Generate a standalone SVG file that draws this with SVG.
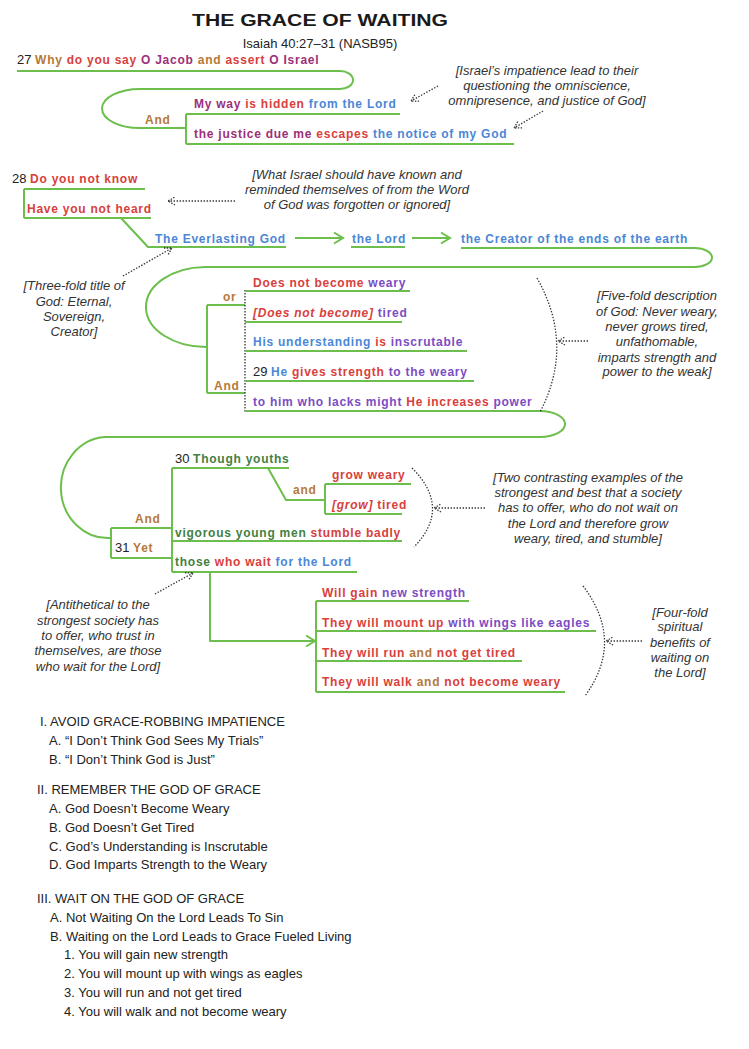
<svg xmlns="http://www.w3.org/2000/svg" width="749" height="1049" viewBox="0 0 749 1049">
<defs>
<style>
.b{font-family:'Liberation Sans',Arial,sans-serif;font-weight:bold;font-size:12px;letter-spacing:0.75px}
.n{font-weight:normal;fill:#222;font-size:13px;letter-spacing:0}
.a{font-family:'Liberation Sans',Arial,sans-serif;font-style:italic;font-size:13px;fill:#333;text-anchor:middle}
.o{font-family:'Liberation Sans',Arial,sans-serif;font-size:13px;fill:#222}
.br{fill:#b5793a}.rd{fill:#d8403c}.pl{fill:#9c2f78}.bl{fill:#4b87d6}.vi{fill:#7b4cc4}.dg{fill:#437f43}
.it{font-style:italic}
.g{fill:none;stroke:#6cbf4c;stroke-width:2;stroke-linejoin:round}
.d{fill:none;stroke:#333;stroke-width:1.3;stroke-dasharray:1.4 1.6}
</style>
<marker id="da" markerUnits="userSpaceOnUse" markerWidth="12" markerHeight="12" viewBox="-10 -6 12 12" refX="0" refY="0" orient="auto">
<path d="M-7,-4 L0,0 L-7,4" fill="none" stroke="#333" stroke-width="1.3" stroke-dasharray="1.4 1.4"/>
</marker>
<marker id="ga" markerUnits="userSpaceOnUse" markerWidth="14" markerHeight="14" viewBox="-12 -7 14 14" refX="0" refY="0" orient="auto">
<path d="M-9,-5.5 L0,0 L-9,5.5" fill="none" stroke="#6cbf4c" stroke-width="2"/>
</marker>
</defs>
<rect width="749" height="1049" fill="#fff"/>

<g id="title">
<text x="320" y="26" text-anchor="middle" font-family="'Liberation Sans',Arial,sans-serif" font-weight="bold" font-size="16" fill="#1a1a1a" textLength="256" lengthAdjust="spacingAndGlyphs">THE GRACE OF WAITING</text>
<text x="320" y="48" text-anchor="middle" class="o">Isaiah 40:27–31 (NASB95)</text>
</g>

<g id="connectors">
<path class="g" d="M17,71 H340 A13,9 0 0 1 340,89 H140 A38,19.5 0 0 0 140,128 H186"/>
<path class="g" d="M186,114 V144 M186,114 H400 M186,144 H514"/>
<path class="g" d="M24,189 V218 M24,189 H145 M24,218 H151 M121,218 L148,247 H286"/>
<path class="g" d="M295,238 H343" marker-end="url(#ga)"/>
<path class="g" d="M351,247 H405"/>
<path class="g" d="M412,238 H450" marker-end="url(#ga)"/>
<path class="g" d="M461,248 H695 A17,9.5 0 0 1 695,267 H205 A60,40 0 0 0 207,347"/>
<path class="g" d="M207,305 V393 M207,305 H245 M207,393 H245"/>
<path class="d" d="M245,290 V412"/>
<path class="g" d="M245,291 H410 M245,322 H402 M245,351 H467 M245,381 H474 M245,411 H540 A25,13 0 0 1 540,437 H105 A47,50.5 0 0 0 111,538"/>
<path class="g" d="M111,528 V558 M111,528 H172 M111,558 H172"/>
<path class="g" d="M172,468 V572 M172,468 H289 M172,541 H402 M172,572 H357"/>
<path class="g" d="M268,468 L286,500 H325 M325,484 V514 M325,484 H411 M325,514 H402"/>
<path class="g" d="M210,572 V641 H315" marker-end="url(#ga)"/>
<path class="g" d="M316,601 V692 M316,601 H469 M316,631 H596 M316,661 H522 M316,692 H565"/>
<path class="d" d="M537,278 Q575,345 540,412"/>
<path class="d" d="M412,468 Q452,508 414,547"/>
<path class="d" d="M583,586 Q625,641 585,696"/>
<path class="d" d="M438,86 L411,101" marker-end="url(#da)"/>
<path class="d" d="M543,111 L514,128" marker-end="url(#da)"/>
<path class="d" d="M235,201 L168,201" marker-end="url(#da)"/>
<path class="d" d="M123,276 L172,248" marker-end="url(#da)"/>
<path class="d" d="M588,341 L558,341" marker-end="url(#da)"/>
<path class="d" d="M485,508 L434,508" marker-end="url(#da)"/>
<path class="d" d="M642,641 L606,641" marker-end="url(#da)"/>
<path class="d" d="M155,594 L193,573" marker-end="url(#da)"/>
</g>

<g id="v27">
<text x="17" y="64" class="b"><tspan class="n">27 </tspan><tspan class="br">Why </tspan><tspan class="rd">do you say </tspan><tspan class="pl">O Jacob </tspan><tspan class="br">and </tspan><tspan class="rd">assert </tspan><tspan class="pl">O Israel</tspan></text>
</g>
<g id="and1"><text x="145" y="124" class="b br">And</text></g>
<g id="myway"><text x="194" y="108" class="b"><tspan class="pl">My way </tspan><tspan class="rd">is hidden </tspan><tspan class="bl">from the Lord</tspan></text></g>
<g id="justice"><text x="194" y="138" class="b"><tspan class="pl">the justice due me </tspan><tspan class="rd">escapes </tspan><tspan class="bl">the notice of my God</tspan></text></g>
<g id="note1">
<text class="a" x="547" y="75">[Israel’s impatience lead to their</text>
<text class="a" x="547" y="90">questioning the omniscience,</text>
<text class="a" x="547" y="105">omnipresence, and justice of God]</text>
</g>

<g id="v28a"><text x="12" y="183" class="b"><tspan class="n">28 </tspan><tspan class="rd">Do you not know</tspan></text></g>
<g id="v28b"><text x="27" y="213" class="b rd">Have you not heard</text></g>
<g id="note2">
<text class="a" x="357" y="179">[What Israel should have known and</text>
<text class="a" x="357" y="194">reminded themselves of from the Word</text>
<text class="a" x="357" y="209">of God was forgotten or ignored]</text>
</g>
<g id="everlasting"><text x="155" y="243" class="b bl">The Everlasting God</text></g>
<g id="lord"><text x="352" y="243" class="b bl">the Lord</text></g>
<g id="creator"><text x="461" y="243" class="b bl">the Creator of the ends of the earth</text></g>
<g id="note3">
<text class="a" x="74" y="290">[Three-fold title of</text>
<text class="a" x="74" y="306">God: Eternal,</text>
<text class="a" x="74" y="321">Sovereign,</text>
<text class="a" x="74" y="336">Creator]</text>
</g>
<g id="or"><text x="223" y="301" class="b br">or</text></g>
<g id="and2"><text x="214" y="390" class="b br">And</text></g>
<g id="d1"><text x="253" y="287" class="b"><tspan class="rd">Does not become </tspan><tspan class="vi">weary</tspan></text></g>
<g id="d2"><text x="253" y="317" class="b"><tspan class="rd it">[Does not become] </tspan><tspan class="vi">tired</tspan></text></g>
<g id="d3"><text x="253" y="346" class="b"><tspan class="bl">His understanding </tspan><tspan class="rd">is </tspan><tspan class="vi">inscrutable</tspan></text></g>
<g id="d4"><text x="253" y="376" class="b"><tspan class="n">29 </tspan><tspan class="bl">He </tspan><tspan class="rd">gives strength </tspan><tspan class="vi">to the weary</tspan></text></g>
<g id="d5"><text x="253" y="406" class="b"><tspan class="vi">to him who lacks might </tspan><tspan class="rd">He increases </tspan><tspan class="vi">power</tspan></text></g>
<g id="note4">
<text class="a" x="657" y="300">[Five-fold description</text>
<text class="a" x="657" y="316">of God: Never weary,</text>
<text class="a" x="657" y="331">never grows tired,</text>
<text class="a" x="657" y="346">unfathomable,</text>
<text class="a" x="657" y="362">imparts strength and</text>
<text class="a" x="657" y="376">power to the weak]</text>
</g>

<g id="and3"><text x="135" y="523" class="b br">And</text></g>
<g id="yet"><text x="115" y="552" class="b"><tspan class="n">31 </tspan><tspan class="br">Yet</tspan></text></g>
<g id="youths"><text x="175" y="463" class="b"><tspan class="n">30 </tspan><tspan class="dg">Though youths</tspan></text></g>
<g id="and4"><text x="293" y="494" class="b br">and</text></g>
<g id="gw"><text x="332" y="479" class="b rd">grow weary</text></g>
<g id="gt"><text x="332" y="509" class="b rd"><tspan class="it">[grow] </tspan>tired</text></g>
<g id="vig"><text x="175" y="537" class="b"><tspan class="dg">vigorous young men </tspan><tspan class="rd">stumble badly</tspan></text></g>
<g id="those"><text x="175" y="566" class="b"><tspan class="dg">those </tspan><tspan class="rd">who wait </tspan><tspan class="bl">for the Lord</tspan></text></g>
<g id="note5">
<text class="a" x="588" y="482">[Two contrasting examples of the</text>
<text class="a" x="588" y="497">strongest and best that a society</text>
<text class="a" x="588" y="512">has to offer, who do not wait on</text>
<text class="a" x="588" y="528">the Lord and therefore grow</text>
<text class="a" x="588" y="543">weary, tired, and stumble]</text>
</g>
<g id="note6">
<text class="a" x="98" y="609">[Antithetical to the</text>
<text class="a" x="98" y="625">strongest society has</text>
<text class="a" x="98" y="640">to offer, who trust in</text>
<text class="a" x="98" y="655">themselves, are those</text>
<text class="a" x="98" y="671">who wait for the Lord]</text>
</g>
<g id="w1"><text x="322" y="597" class="b"><tspan class="rd">Will gain </tspan><tspan class="vi">new strength</tspan></text></g>
<g id="w2"><text x="322" y="627" class="b"><tspan class="rd">They will mount up </tspan><tspan class="vi">with wings like eagles</tspan></text></g>
<g id="w3"><text x="322" y="657" class="b"><tspan class="rd">They will run </tspan><tspan class="br">and </tspan><tspan class="rd">not get tired</tspan></text></g>
<g id="w4"><text x="322" y="686" class="b"><tspan class="rd">They will walk </tspan><tspan class="br">and </tspan><tspan class="rd">not become weary</tspan></text></g>
<g id="note7">
<text class="a" x="680" y="617">[Four-fold</text>
<text class="a" x="680" y="631">spiritual</text>
<text class="a" x="680" y="647">benefits of</text>
<text class="a" x="680" y="662">waiting on</text>
<text class="a" x="680" y="677">the Lord]</text>
</g>

<g id="outline">
<text class="o" x="40" y="726">I. AVOID GRACE-ROBBING IMPATIENCE</text>
<text class="o" x="49" y="745">A. “I Don’t Think God Sees My Trials”</text>
<text class="o" x="49" y="764">B. “I Don’t Think God is Just”</text>
<text class="o" x="37" y="794">II. REMEMBER THE GOD OF GRACE</text>
<text class="o" x="49" y="813">A. God Doesn’t Become Weary</text>
<text class="o" x="49" y="832">B. God Doesn’t Get Tired</text>
<text class="o" x="49" y="851">C. God’s Understanding is Inscrutable</text>
<text class="o" x="49" y="869">D. God Imparts Strength to the Weary</text>
<text class="o" x="37" y="903">III. WAIT ON THE GOD OF GRACE</text>
<text class="o" x="50" y="922">A. Not Waiting On the Lord Leads To Sin</text>
<text class="o" x="50" y="941">B. Waiting on the Lord Leads to Grace Fueled Living</text>
<text class="o" x="64" y="959">1. You will gain new strength</text>
<text class="o" x="64" y="978">2. You will mount up with wings as eagles</text>
<text class="o" x="64" y="997">3. You will run and not get tired</text>
<text class="o" x="64" y="1016">4. You will walk and not become weary</text>
</g>
</svg>
